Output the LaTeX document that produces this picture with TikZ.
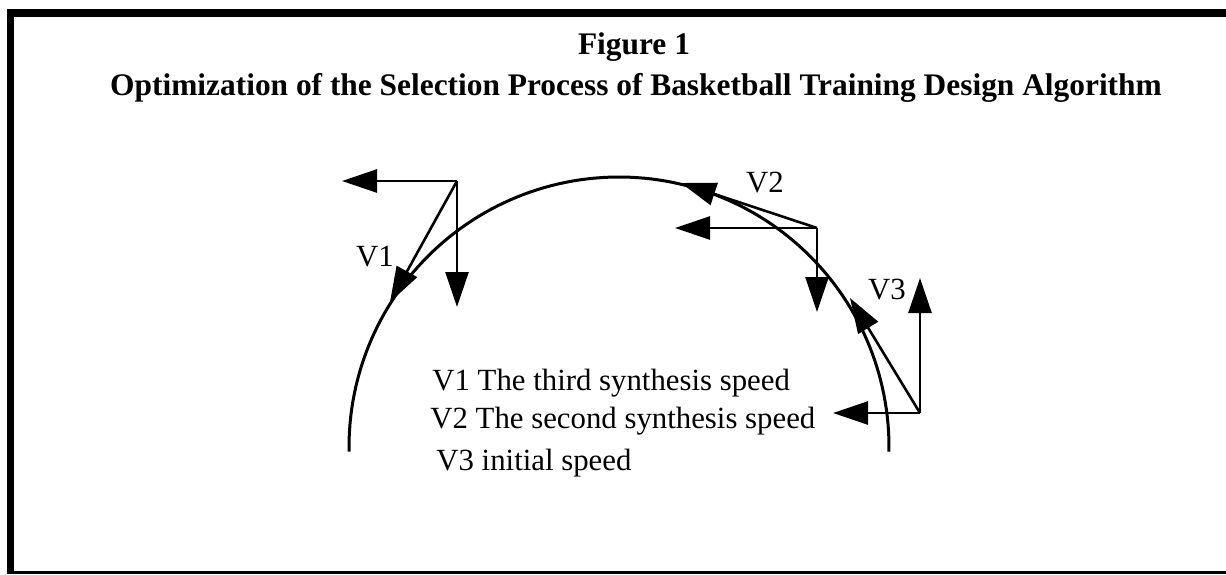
\documentclass[tikz,border=0pt]{standalone}
\usepackage{fontspec}
\setmainfont{Liberation Serif}
\usetikzlibrary{arrows.meta}
\begin{document}
\begin{tikzpicture}[x=0.5pt,y=-0.5pt,
  vec/.style={line width=1.3pt,-{Triangle[length=17.5pt,width=11.5pt]}},
  trajectory/.style={line width=1.5pt},
  lbl/.style={font=\fontsize{15.4}{18}\selectfont, inner sep=0pt},
  titletext/.style={font=\bfseries\fontsize{15.7}{19}\selectfont, inner sep=0pt},
  frame/.style={fill=black},
  ]
\useasboundingbox (0,0) rectangle (1226,574);

% frame bands
\fill[frame] (7,9) rectangle (1226,17);
\fill[frame] (7,9) rectangle (14,574);
\fill[frame] (7,571) rectangle (1226,574);

% heading
\node[titletext] (fig) at (634,47) {Figure 1};
\node[titletext] (cap) at (636,88) {Optimization of the Selection Process of Basketball Training Design Algorithm};

% trajectory of the ball
\draw[trajectory] plot[domain=179:361, samples=120] ({619+270*cos(\x)},{447+270*sin(\x)});

% velocity decomposition points
\coordinate (c1) at (457,181);
\coordinate (l1) at (342,181);
\coordinate (d1) at (457,307);
\coordinate (s1) at (390,302);

\coordinate (c2) at (817,228);
\coordinate (l2) at (675,228);
\coordinate (d2) at (817,312);
\coordinate (s2) at (681,183);

\coordinate (c3) at (920,413);
\coordinate (u3) at (920,278);
\coordinate (l3) at (833,413);
\coordinate (s3) at (850,298);

\draw[vec] (c1) -- (l1);
\draw[vec] (c1) -- (d1);
\draw[vec] (c1) -- (s1);

\draw[vec] (c2) -- (l2);
\draw[vec] (c2) -- (d2);
\draw[vec] (c2) -- (s2);

\draw[vec] (c3) -- (u3);
\draw[vec] (c3) -- (l3);
\draw[vec] (c3) -- (s3);

% vector labels
\node[lbl] (v1) at (375,257) {V1};
\node[lbl] (v2) at (765,183) {V2};
\node[lbl] (v3) at (887,290) {V3};

% legend
\node[lbl, anchor=base west] (leg1) at (432,390) {V1 The third synthesis speed};
\node[lbl, anchor=base west] (leg2) at (430,428) {V2 The second synthesis speed};
\node[lbl, anchor=base west] (leg3) at (436,470) {V3 initial speed};
\end{tikzpicture}
\end{document}
